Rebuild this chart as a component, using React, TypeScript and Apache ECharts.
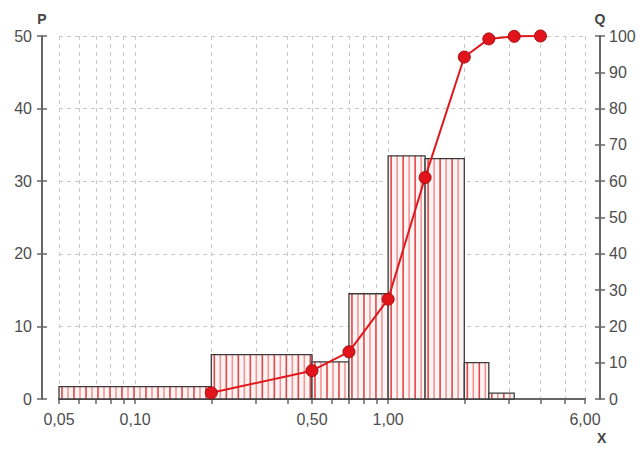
import React, { useEffect, useRef } from "react";
import * as echarts from "echarts";

// Histogram class edges (mm) and class percentages P
const edges = [0.05, 0.2, 0.5, 0.7, 1.0, 1.4, 2.0, 2.5, 3.15];
const pValues = [1.7, 6.1, 5.1, 14.5, 33.5, 33.1, 5.0, 0.8];
// Cumulative curve Q
const qSizes = [0.2, 0.5, 0.7, 1.0, 1.4, 2.0, 2.5, 3.15, 4.0];
const qValues = [1.7, 7.8, 13.0, 27.5, 61.0, 94.2, 99.2, 99.9, 100];
// Axis ticks & labels
const xTickValues = [
  0.05, 0.06, 0.07, 0.08, 0.09, 0.1, 0.2, 0.3, 0.4, 0.5, 0.6, 0.7, 0.8, 0.9,
  1, 2, 3, 4, 5, 6,
];
const xLabelValues = [0.05, 0.1, 0.5, 1, 6];

const FONT = "'Liberation Sans', Arial, sans-serif";

export default function App() {
  const ref = useRef<HTMLDivElement>(null);
  useEffect(() => {
    if (!ref.current) return;
    const chart = echarts.init(ref.current, null, { renderer: "svg" });
    const barData = pValues.map((p, i) => [edges[i], edges[i + 1], p]);
    const lineData = qSizes.map((s, i) => [s, qValues[i]]);
    const axisLine = { show: true, lineStyle: { color: "#666", width: 2 } };
    const tickStyle = { color: "#666", width: 1.5 };
    const labelStyle = { color: "#4d4d4d", fontSize: 16, fontFamily: FONT };
    const nameStyle = {
      color: "#444",
      fontWeight: "bold",
      fontSize: 14,
      fontFamily: FONT,
    };
    chart.setOption({
      animation: false,
      backgroundColor: "#fff",
      grid: { left: 59, right: 58, top: 36, bottom: 54, containLabel: false },
      xAxis: {
        type: "log",
        logBase: 10,
        min: 0.05,
        max: 6,
        name: "X",
        nameLocation: "end",
        nameGap: 12,
        nameTextStyle: { ...nameStyle, verticalAlign: "top", padding: [32, 0, 0, 0] },
        axisLine,
        axisTick: { show: true, length: 5, customValues: xTickValues, lineStyle: tickStyle },
        axisLabel: {
          ...labelStyle,
          margin: 12,
          customValues: xLabelValues,
          formatter: (v: number) => v.toFixed(2).replace(".", ","),
        },
        splitLine: {
          show: true,
          lineStyle: { color: "#c8c8c8", type: [4, 4], width: 1 },
        },
      },
      yAxis: [
        {
          type: "value",
          min: 0,
          max: 50,
          interval: 10,
          position: "left",
          offset: 17,
          name: "P",
          nameLocation: "end",
          nameGap: 10,
          nameTextStyle: nameStyle,
          axisLine,
          axisTick: { show: true, length: 5, lineStyle: tickStyle },
          axisLabel: { ...labelStyle, margin: 10 },
          splitLine: {
            show: true,
            lineStyle: { color: "#c8c8c8", type: [4, 4], width: 1 },
          },
        },
        {
          type: "value",
          min: 0,
          max: 100,
          interval: 10,
          position: "right",
          offset: 15,
          name: "Q",
          nameLocation: "end",
          nameGap: 10,
          nameTextStyle: nameStyle,
          axisLine,
          axisTick: { show: true, length: 5, lineStyle: tickStyle },
          axisLabel: { ...labelStyle, margin: 9 },
          splitLine: { show: false },
        },
        {
          type: "value",
          min: 0,
          max: 50,
          interval: 10,
          position: "left",
          offset: 17,
          axisLine: { show: false },
          axisTick: { show: true, inside: true, length: 5, lineStyle: tickStyle },
          axisLabel: { show: false },
          splitLine: { show: false },
        },
        {
          type: "value",
          min: 0,
          max: 100,
          interval: 10,
          position: "right",
          offset: 15,
          axisLine: { show: false },
          axisTick: { show: true, inside: true, length: 5, lineStyle: tickStyle },
          axisLabel: { show: false },
          splitLine: { show: false },
        },
      ],
      series: [
        {
          type: "custom",
          name: "P",
          yAxisIndex: 0,
          encode: { x: [0, 1], y: 2 },
          data: barData,
          z: 2,
          renderItem: (params: any, api: any) => {
            const x0 = api.value(0);
            const x1 = api.value(1);
            const v = api.value(2);
            const a = api.coord([x0, 0]);
            const b = api.coord([x1, v]);
            const left = a[0];
            const right = b[0];
            const top = b[1];
            const bottom = a[1];
            const children: any[] = [
              {
                type: "rect",
                shape: { x: left, y: top, width: right - left, height: bottom - top },
                style: { fill: "#fff4f4", stroke: "none" },
              },
            ];
            let k = 0;
            for (let x = left + 3; x < right - 1; x += 6) {
              children.push({
                type: "line",
                shape: { x1: x, y1: top, x2: x, y2: bottom },
                style: {
                  stroke: k % 2 === 0 ? "rgba(222,40,40,0.85)" : "rgba(235,110,110,0.7)",
                  lineWidth: 1.6,
                },
              });
              k++;
            }
            children.push({
              type: "rect",
              shape: { x: left, y: top, width: right - left, height: bottom - top },
              style: { fill: "none", stroke: "#3a3a3a", lineWidth: 1.3 },
            });
            return { type: "group", children };
          },
        },
        {
          type: "line",
          name: "Q",
          yAxisIndex: 1,
          data: lineData,
          z: 5,
          symbol: "circle",
          symbolSize: 12,
          lineStyle: { color: "#e0181e", width: 2 },
          itemStyle: { color: "#e0141a", borderColor: "#a80c10", borderWidth: 1 },
        },
      ],
    });
    return () => chart.dispose();
  }, []);
  return (
    <div
      ref={ref}
      style={{ position: "absolute", left: 0, top: 0, width: 643, height: 453 }}
    />
  );
}
